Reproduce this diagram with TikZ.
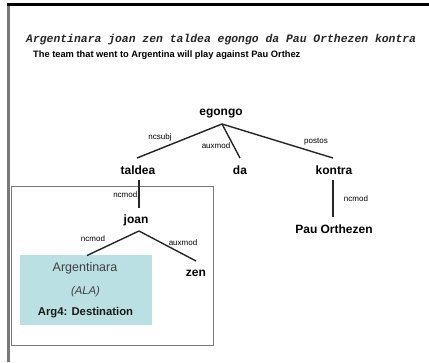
\documentclass[tikz,border=0pt]{standalone}
\usepackage{fontspec}
\setmainfont{Liberation Sans}
\newfontfamily\glossmono{Liberation Mono}
\definecolor{argfill}{RGB}{186,224,228}
\definecolor{framegray}{RGB}{120,120,120}
\begin{document}
\begin{tikzpicture}[x=1pt,y=-1pt,
  word/.style={font=\fontsize{12}{14}\selectfont\bfseries, inner sep=0pt},
  dep/.style={font=\fontsize{8}{9}\selectfont, inner sep=0pt, text=black},
  arc/.style={draw=black!85, line width=1.4pt},
  argbox/.style={fill=argfill, draw=none}]
\useasboundingbox (0,0) rectangle (429,362);
\fill[white] (0,0) rectangle (429,362);

% page frame: grey left rule and black top rule
\draw[framegray, line width=2.6pt] (8.7,4) -- (8.7,362);
\draw[black, line width=2.6pt] (7.4,4.6) -- (429,4.6);

% sentence and its translation
\node[anchor=west, inner sep=0pt, text=black!85] (basque) at (26,40)
  {\glossmono\fontsize{11.4}{13}\selectfont\bfseries\itshape Argentinara joan zen taldea egongo da Pau Orthezen kontra};
\node[anchor=west, inner sep=0pt, font=\fontsize{9.3}{11}\selectfont\bfseries] (english) at (33,55)
  {The team that went to Argentina will play against Pau Orthez};

% frame around the relative clause
\draw[framegray, line width=1pt] (11.5,186) rectangle (213,345);

% highlighted argument
\node[argbox, minimum width=132pt, minimum height=70pt, inner sep=0pt] (arg) at (86,290) {};
\node[inner sep=0pt, font=\fontsize{12.5}{14}\selectfont, text=black!75] (argw) at (85,268) {Argentinara};
\node[inner sep=0pt, font=\fontsize{11.3}{13}\selectfont\itshape, text=black!75] (argc) at (85.5,292) {(ALA)};
\node[inner sep=0pt, font=\fontsize{11.3}{13}\selectfont\bfseries, text=black!90] (argr) at (85.5,313) {Arg4: Destination};

% words of the tree
\node[word] (egongo) at (221,114) {egongo};
\node[word] (taldea) at (138,170) {taldea};
\node[word] (da) at (240,170) {da};
\node[word] (kontra) at (334,170) {kontra};
\node[word] (joan) at (136,220) {joan};
\node[word] (zen) at (196,273) {zen};
\node[word] (pau) at (334,229) {Pau Orthezen};

% attachment points of the arcs
\coordinate (egongo-b) at (222,124);
\coordinate (taldea-t) at (137,158);
\coordinate (da-t) at (240,158);
\coordinate (kontra-t) at (333,158);
\coordinate (taldea-b) at (139,180);
\coordinate (joan-t) at (139,208);
\coordinate (joan-b) at (139,231);
\coordinate (arg-t) at (87,255.5);
\coordinate (zen-t) at (196,261);
\coordinate (kontra-b) at (333,180);
\coordinate (pau-t) at (333,217);

% dependency arcs
\draw[arc] (egongo-b) -- (taldea-t);
\draw[arc] (egongo-b) -- (da-t);
\draw[arc] (egongo-b) -- (kontra-t);
\draw[arc] (taldea-b) -- (joan-t);
\draw[arc] (joan-b) -- (arg-t);
\draw[arc] (joan-b) -- (zen-t);
\draw[arc] (kontra-b) -- (pau-t);

% dependency labels
\node[dep] (l-ncsubj) at (160,137) {ncsubj};
\node[dep] (l-auxda) at (216,146) {auxmod};
\node[dep] (l-postos) at (316,142) {postos};
\node[dep, anchor=east] (l-ncmod1) at (137.5,195) {ncmod};
\node[dep] (l-ncmod2) at (93,239) {ncmod};
\node[dep] (l-auxzen) at (183,243) {auxmod};
\node[dep] (l-ncmod3) at (356,199) {ncmod};
\end{tikzpicture}
\end{document}
